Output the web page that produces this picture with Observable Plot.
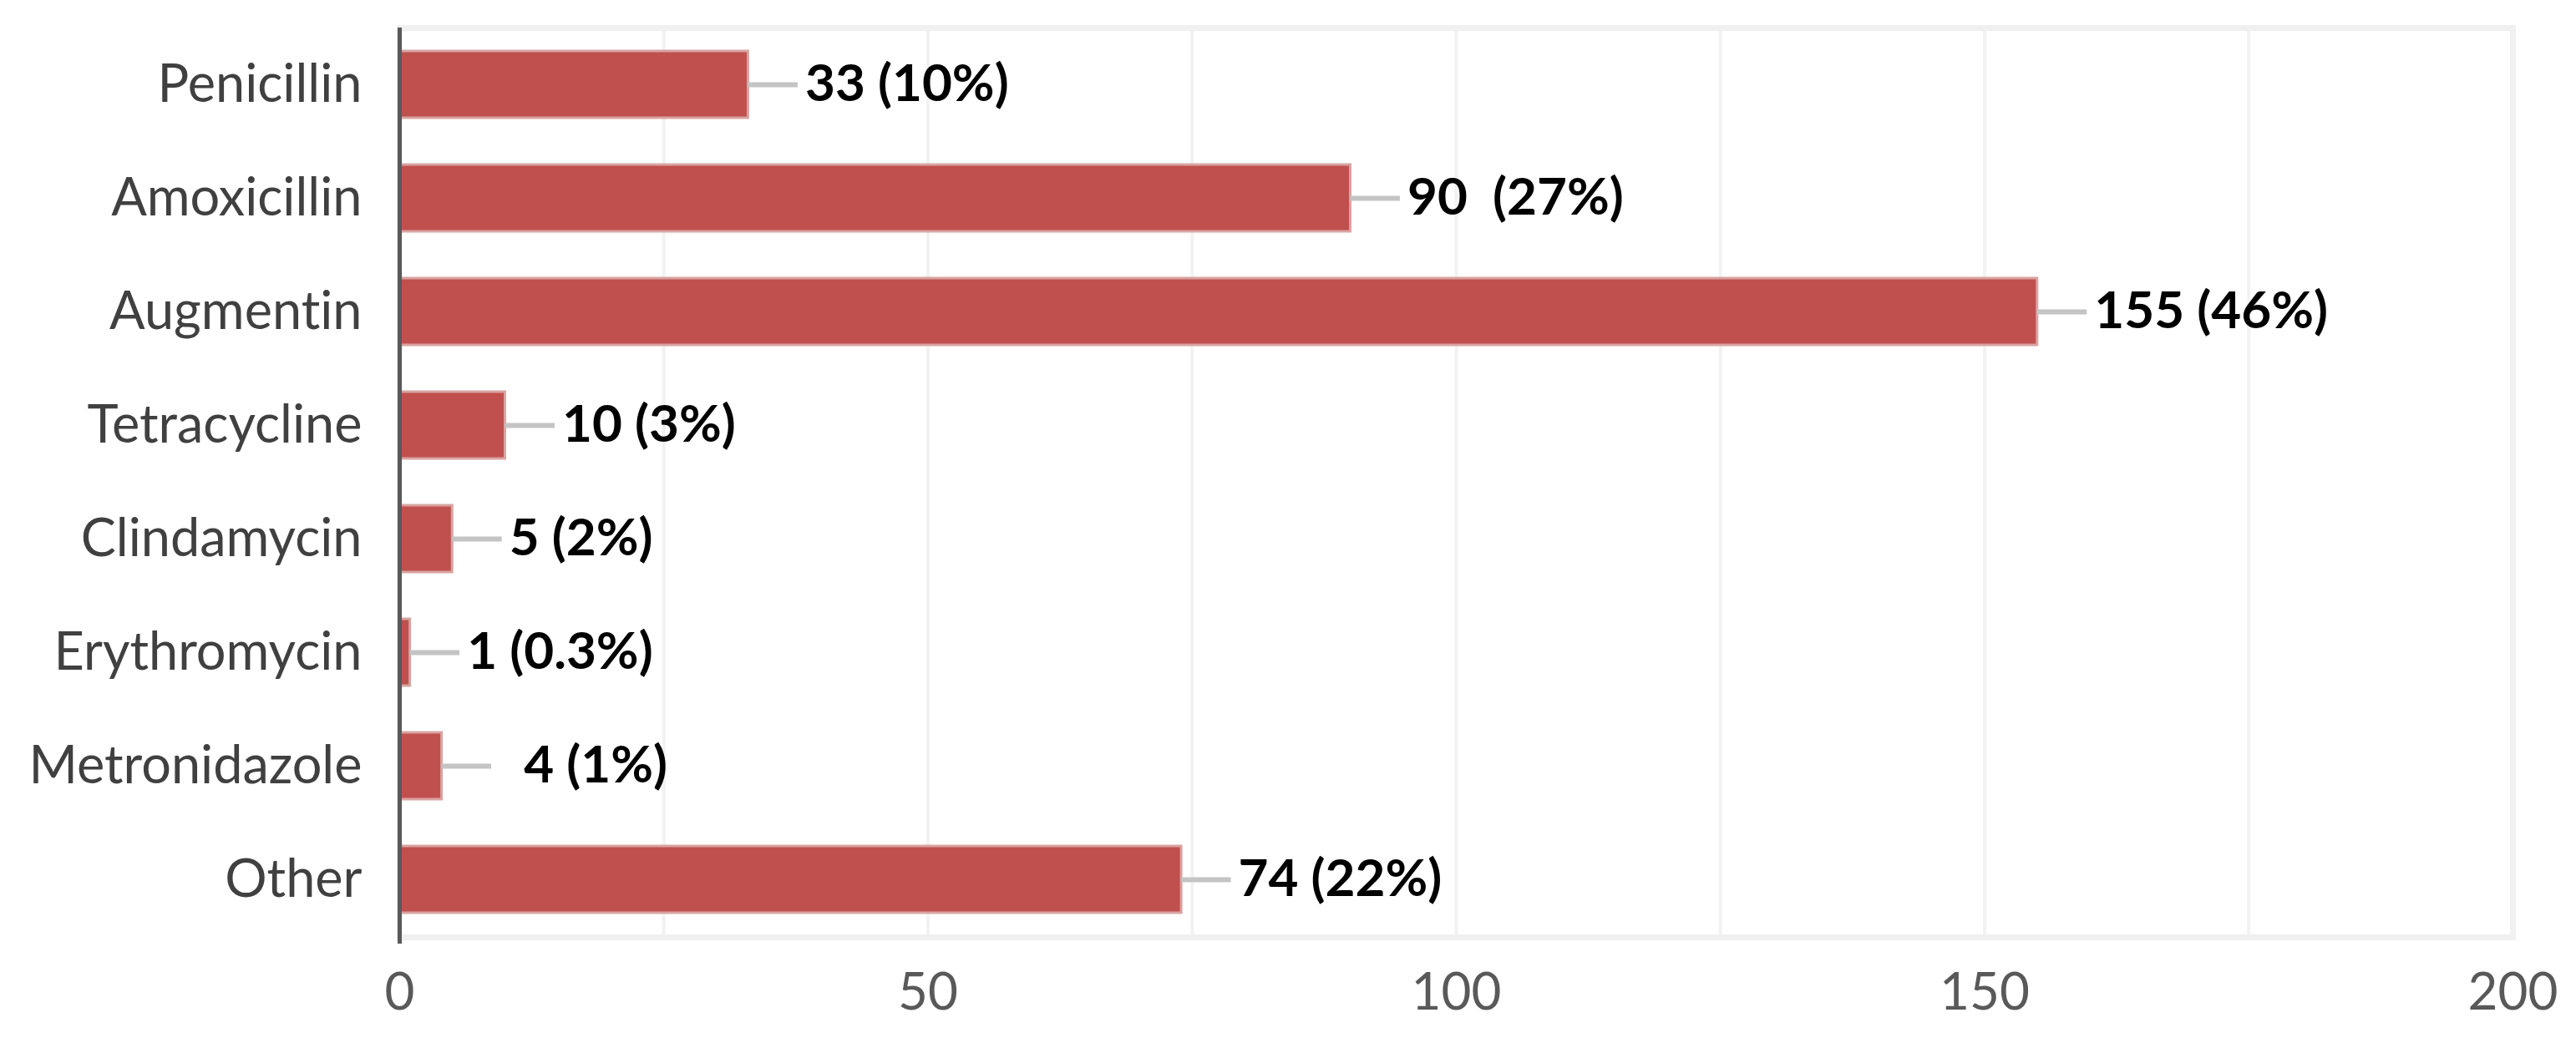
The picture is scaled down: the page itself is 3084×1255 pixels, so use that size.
<!DOCTYPE html>
<html>
<head>
<meta charset="utf-8">
<script src="https://cdn.jsdelivr.net/npm/d3@7"></script>
<script src="https://cdn.jsdelivr.net/npm/@observablehq/plot@0.6"></script>
<style>
  html, body { margin: 0; padding: 0; background: #fff; }
  svg { display: block; }
  svg text { font-variant-ligatures: none; font-feature-settings: "liga" 0, "clig" 0; }
</style>
</head>
<body>
<div id="chart"></div>
<script>
const categories = ["Penicillin", "Amoxicillin", "Augmentin", "Tetracycline", "Clindamycin", "Erythromycin", "Metronidazole", "Other"];
const counts = [33, 90, 155, 10, 5, 1, 4, 74];
const valueLabels = ["33 (10%)", "90  (27%)", "155 (46%)", "10 (3%)", "5 (2%)", "1 (0.3%)", "  4 (1%)", "74 (22%)"];
const xTickValues = [0, 50, 100, 150, 200];
const gridValues = [0, 25, 50, 75, 100, 125, 150, 175, 200];

const data = categories.map((name, i) => ({name, value: counts[i], label: valueLabels[i]}));
const leaderUnits = 4.7;

const chart = Plot.plot({
  width: 3084,
  height: 1255,
  marginLeft: 478,
  marginRight: 76,
  marginTop: 33,
  marginBottom: 133,
  style: {fontFamily: "Lato, 'Open Sans', sans-serif", fontSize: "62px", background: "#fff", whiteSpace: "pre"},
  x: {domain: [0, 200], ticks: xTickValues, tickSize: 0, tickPadding: 42, label: null},
  y: {domain: categories, paddingInner: 0.41, paddingOuter: 0.205, tickSize: 0, tickPadding: 45, label: null},
  marks: [
    Plot.ruleX(gridValues, {stroke: "#f2f2f2", strokeWidth: 4}),
    Plot.frame({stroke: "#f0f0f0", strokeWidth: 7}),
    Plot.axisY({tickSize: 0, tickPadding: 45, fill: "#404040", fontSize: 63}),
    Plot.axisX({ticks: xTickValues, tickSize: 0, tickPadding: 42, fill: "#595959", fontSize: 62}),
    Plot.barX(data, {y: "name", x: "value", fill: "#C0504D", stroke: "#d9a3a1", strokeWidth: 3}),
    Plot.ruleY(data, {y: "name", x1: "value", x2: d => d.value + leaderUnits, stroke: "#c4c4c4", strokeWidth: 6}),
    Plot.text(data, {y: "name", x: "value", text: "label", dx: 68, textAnchor: "start", fill: "#000", fontWeight: "bold", fontSize: 62}),
    Plot.ruleX([0], {stroke: "#595959", strokeWidth: 5, insetBottom: -8})
  ]
});
document.getElementById("chart").appendChild(chart);
</script>
</body>
</html>
